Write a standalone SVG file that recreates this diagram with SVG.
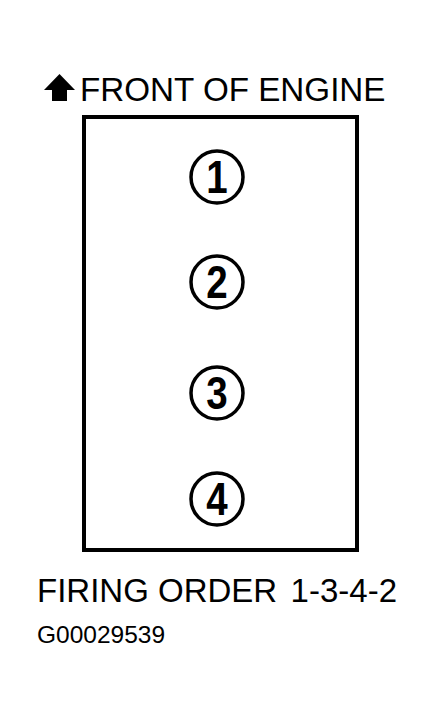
<svg xmlns="http://www.w3.org/2000/svg" width="433" height="725" viewBox="0 0 433 725">
<style>
.t{font-family:"Liberation Sans",Arial,sans-serif;fill:#000}
.c{fill:none;stroke:#000;stroke-width:3.5}
.n{font-family:"Liberation Sans",Arial,sans-serif;font-weight:bold;font-size:47px;fill:#000;text-anchor:middle}
</style>
<rect width="433" height="725" fill="#fff"/>
<g id="header">
<polygon points="59.5,74 44,90 52,90 52,101 67,101 67,90 75,90" fill="#000"/>
<text class="t" x="80" y="101" font-size="33.2">FRONT OF ENGINE</text>
</g>
<g id="engine">
<rect x="84" y="117" width="273" height="433" fill="none" stroke="#000" stroke-width="4"/>
</g>
<g id="cyl1"><circle class="c" cx="217" cy="177" r="26"/><text class="n" x="217" y="193.5" transform="translate(217 0) scale(0.82 1) translate(-217 0)">1</text></g>
<g id="cyl2"><circle class="c" cx="217" cy="282" r="26"/><text class="n" x="217" y="298.5" transform="translate(217 0) scale(0.82 1) translate(-217 0)">2</text></g>
<g id="cyl3"><circle class="c" cx="217" cy="393" r="26"/><text class="n" x="217" y="409.5" transform="translate(217 0) scale(0.82 1) translate(-217 0)">3</text></g>
<g id="cyl4"><circle class="c" cx="217" cy="499" r="26"/><text class="n" x="217" y="515.5" transform="translate(217 0) scale(0.82 1) translate(-217 0)">4</text></g>
<g id="connectors"></g>
<g id="footer">
<text class="t" x="37" y="602" font-size="33">FIRING ORDER</text>
<text class="t" x="397" y="602" font-size="33" text-anchor="end">1-3-4-2</text>
<text class="t" x="37" y="643" font-size="24.5">G00029539</text>
</g>
</svg>
